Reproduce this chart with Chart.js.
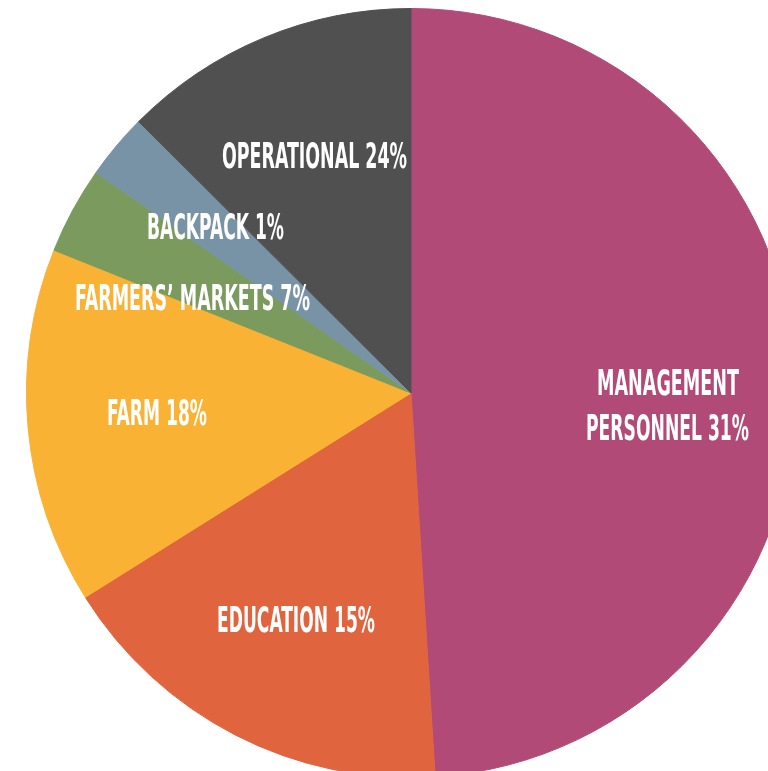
<!DOCTYPE html>
<html>
<head>
<meta charset="utf-8">
<script src="https://cdn.jsdelivr.net/npm/chart.js@4.4.0/dist/chart.umd.min.js"></script>
<style>
  html,body{margin:0;padding:0;background:#fff;overflow:hidden;width:768px;height:771px;}
  #wrap{position:absolute;left:26px;top:8px;width:770px;height:770px;}
</style>
</head>
<body>
<div id="wrap"><canvas id="pie" width="770" height="770"></canvas></div>
<script>
// categorias e valores (fatias em graus, sentido horario a partir do topo)
const categories = ['Management Personnel', 'Education', 'Farm', 'Farmers\u2019 Markets', 'Backpack', 'Operational'];
const sliceValues = [176.4, 61.5, 53.9, 13.2, 9.9, 45.1];
const sliceColors = ['#b24a78', '#e0653f', '#f9b233', '#7a9b5d', '#7893a6', '#505050'];
// textos como impressos no grafico original
const labelLines = [
  ['MANAGEMENT', 'PERSONNEL 31%'],
  ['EDUCATION 15%'],
  ['FARM 18%'],
  ['FARMERS\u2019 MARKETS 7%'],
  ['BACKPACK 1%'],
  ['OPERATIONAL 24%']
];

// posicao dos rotulos relativa ao centro do grafico: [dx, baseline dy, largura]
const labelPos = [
  [[186, 2, 142], [175, 47, 163]],
  [[-194, 239, 158]],
  [[-304, 32, 100]],
  [[-336, -83, 235]],
  [[-264, -154, 137]],
  [[-189, -225, 185]]
];

const labelPlugin = {
  id: 'sliceLabels',
  afterDatasetsDraw(chart){
    const ctx = chart.ctx;
    const arc = chart.getDatasetMeta(0).data[0];
    const cx = arc.x, cy = arc.y;
    ctx.save();
    ctx.fillStyle = '#ffffff';
    ctx.font = 'bold 35px "Liberation Sans Narrow", "DejaVu Sans Condensed", "Roboto", sans-serif';
    ctx.textAlign = 'left';
    ctx.textBaseline = 'alphabetic';
    labelLines.forEach((lines, i)=>{
      lines.forEach((txt, j)=>{
        const p = labelPos[i][j];
        const w = ctx.measureText(txt).width;
        const sx = p[2] / w;
        ctx.save();
        ctx.translate(cx + p[0], cy + p[1]);
        ctx.scale(sx, 1);
        ctx.fillText(txt, 0, 0);
        ctx.restore();
      });
    });
    ctx.restore();
  }
};

new Chart(document.getElementById('pie').getContext('2d'), {
  type: 'pie',
  data: {
    labels: categories,
    datasets: [{
      data: sliceValues,
      backgroundColor: sliceColors,
      borderColor: sliceColors,
      borderWidth: 1
    }]
  },
  options: {
    responsive: false,
    animation: false,
    layout: { padding: 0 },
    plugins: { legend: { display: false }, tooltip: { enabled: false } }
  },
  plugins: [labelPlugin]
});
</script>
</body>
</html>
